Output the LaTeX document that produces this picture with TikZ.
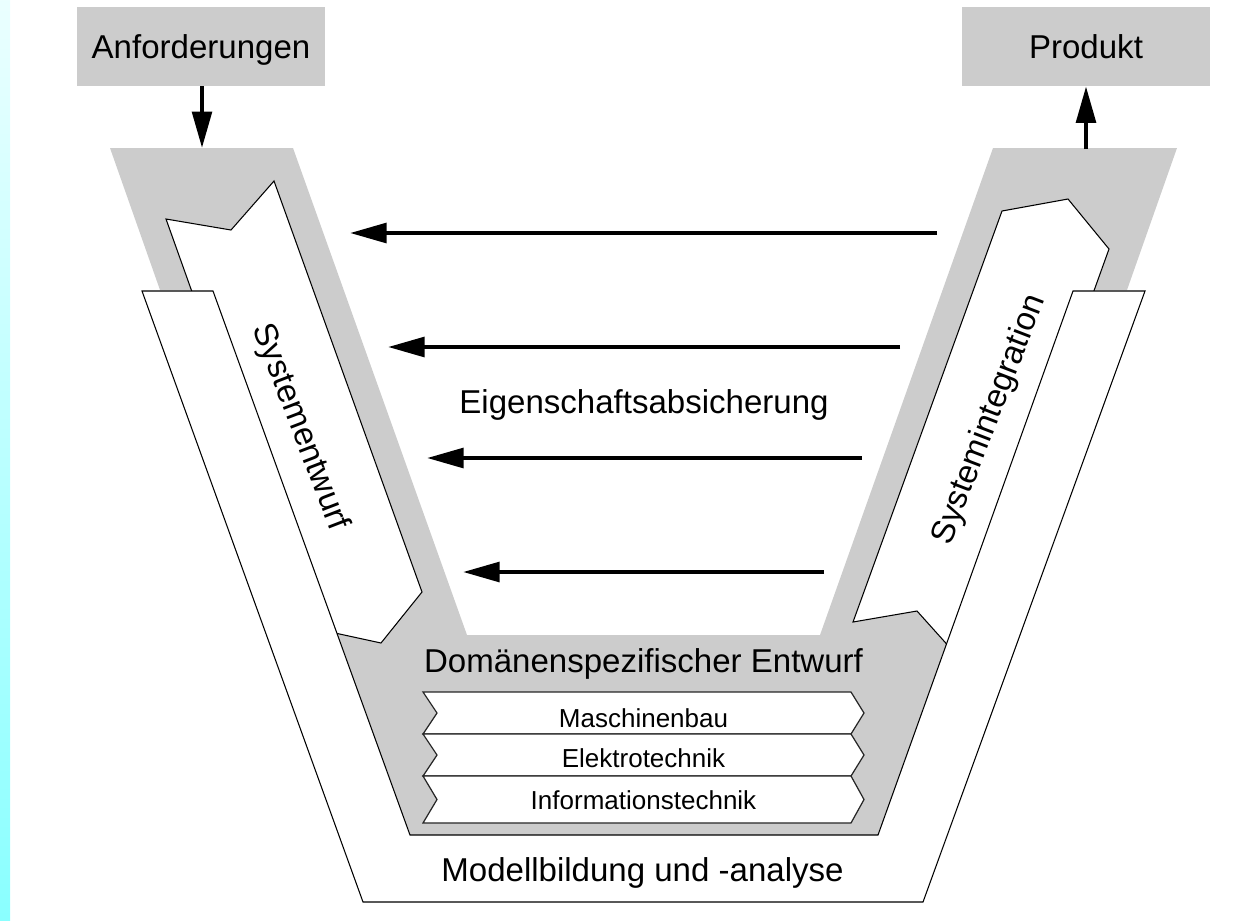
\documentclass[tikz,border=0pt]{standalone}
\usepackage{fontspec}
\setmainfont{Liberation Sans}
\usetikzlibrary{arrows.meta}
\definecolor{vgray}{HTML}{CCCCCC}
\begin{document}
\begin{tikzpicture}[x=0.2mm,y=-0.2mm,
  outline/.style={draw=black,line width=0.6pt,line join=miter},
  band/.style={outline,fill=white},
  barline/.style={draw=black!85,line width=0.7pt,fill=white},
  flow/.style={line width=0.85mm,-{Triangle[length=7.3mm,width=3.9mm]}},
  bigtext/.style={inner sep=0pt,text height=13.46pt,text depth=0pt,
    font=\fontsize{18.8}{22}\selectfont},
  smalltext/.style={inner sep=0pt,text height=10.6pt,text depth=0pt,
    font=\fontsize{14.8}{18}\selectfont},
  io/.style={bigtext,fill=vgray,minimum width=49.6mm,minimum height=15.8mm}]

\useasboundingbox (0,0) rectangle (1240,920);

% side strip
\shade[top color=cyan!8,bottom color=cyan!46] (0,0) rectangle (10,920);

% grey V of the process
\fill[vgray] (110,148) -- (293,148) -- (467,635) -- (820,635) -- (993,148)
  -- (1177,148) -- (1127,290) -- (1073,290) -- (878,835) -- (410,835)
  -- (213,290) -- (160,290) -- cycle;

% left arm: Systementwurf
\draw[band] (166,219) -- (231,230) -- (274,181) -- (422,592) -- (381,643)
  -- (312,628) -- cycle;
% right arm: Systemintegration
\draw[band] (1002,211) -- (1068,199) -- (1109,249) -- (961,660) -- (917,611)
  -- (853,622) -- cycle;
% outer band: Modellbildung und -analyse
\draw[band] (142,291) -- (363,902) -- (923,902) -- (1145,291) -- (1073,291)
  -- (878,835) -- (410,835) -- (213,291) -- cycle;

% domain bars
\foreach \t/\b in {692/734, 734/776, 776/823} {
  \draw[barline] (423,\t) -- (851,\t) -- (864,{(\t+\b)/2}) -- (851,\b)
    -- (423,\b) -- (437,{(\t+\b)/2}) -- cycle;
}
\node[smalltext] (mb) at (643.5,718) {Maschinenbau};
\node[smalltext] (et) at (643.5,758) {Elektrotechnik};
\node[smalltext] (it) at (643.5,800) {Informationstechnik};

% labels
\node[bigtext] (dom) at (643.5,661) {Domänenspezifischer Entwurf};
\node[bigtext] (mod) at (642.5,870) {Modellbildung und -analyse};
\node[bigtext] (eig) at (644,402) {Eigenschaftsabsicherung};
\node[bigtext,rotate=-69] (se) at (303,426) {Systementwurf};
\node[bigtext,rotate=69] (si) at (986.5,418.5) {Systemintegration};

% input and output
\node[io] (anf) at (201,46.5) {Anforderungen};
\node[io] (prod) at (1086,46.5) {Produkt};
\coordinate (vin) at (202,148);
\coordinate (vout) at (1086,149);
\draw[flow] (anf.south -| vin) -- (vin);
\draw[flow] (vout) -- (prod.south);

% verification arrows
\coordinate (r1) at (937,233); \coordinate (l1) at (350,233);
\coordinate (r2) at (900,347); \coordinate (l2) at (388,347);
\coordinate (r3) at (862,458); \coordinate (l3) at (427,458);
\coordinate (r4) at (824,572); \coordinate (l4) at (463,572);
\foreach \i in {1,2,3,4} { \draw[flow] (r\i) -- (l\i); }
\end{tikzpicture}
\end{document}
